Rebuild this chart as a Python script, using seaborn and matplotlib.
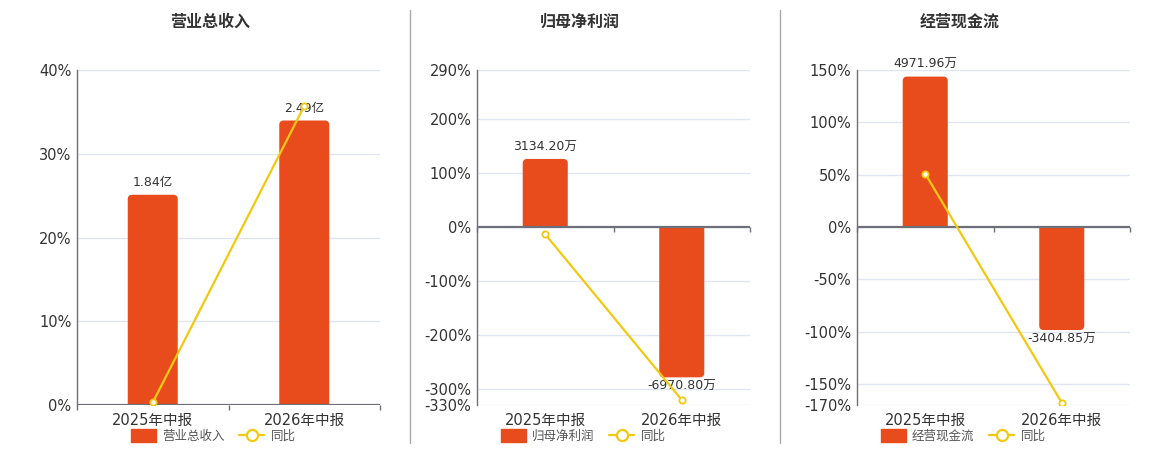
import matplotlib
matplotlib.use("Agg")
import matplotlib.pyplot as plt
import seaborn as sns
import numpy as np
import pandas as pd
from matplotlib.patches import Patch, Polygon
from matplotlib.lines import Line2D

sns.set_style("white")
plt.rcParams["font.family"] = ["DejaVu Sans", "Noto Sans CJK SC"]

# %% data
periods = ["2025年中报", "2026年中报"]

revenue = [1.84, 2.49]            # 亿
revenue_yoy = [0.3, 35.7]         # %
profit = [3134.20, -6970.80]      # 万
profit_yoy = [-14.1, -320.7]
cashflow = [4971.96, -3404.85]    # 万
cashflow_yoy = [50.9, -167.8]

titles = ["营业总收入", "归母净利润", "经营现金流"]
units = ["亿", "万", "万"]
yticks = [
    [0, 10, 20, 30, 40],
    [-330, -300, -200, -100, 0, 100, 200, 290],
    [-170, -150, -100, -50, 0, 50, 100, 150],
]

# %% style
BAR = "#E84C1D"
LINE = "#F2C811"
GRID = "#E0E6F1"
AXIS = "#6E7079"
TEXT = "#333333"
W, H = 1160, 450

# axes boxes in pixels: left, right, top, bottom
boxes = [(77, 380, 70, 405), (477, 750, 70, 405), (857, 1130, 70, 405)]
centers = [210, 580, 960]
# hidden bar axis: money units per percent
scale = [0.0733, 25.0, 34.6]
RADIUS = 4  # px


def round_bars(ax2, px_w, px_h):
    """swap the seaborn bars for ones with rounded outer corners"""
    x0, x1 = ax2.get_xlim()
    y0, y1 = ax2.get_ylim()
    rx = RADIUS * (x1 - x0) / px_w
    for p in list(ax2.patches):
        x, w, v = p.get_x(), p.get_width(), p.get_height()
        ry = RADIUS * (y1 - y0) / px_h * np.sign(v)
        a1 = np.linspace(np.pi, np.pi / 2, 8)
        a2 = np.linspace(np.pi / 2, 0, 8)
        pts = [(x, 0)]
        pts += [(x + rx + rx * np.cos(a), v - ry + ry * np.sin(a)) for a in a1]
        pts += [(x + w - rx + rx * np.cos(a), v - ry + ry * np.sin(a)) for a in a2]
        pts += [(x + w, 0)]
        ax2.add_patch(Polygon(pts, closed=True, facecolor=BAR, edgecolor="none",
                              zorder=2))
        p.set_visible(False)


fig = plt.figure(figsize=(W / 100, H / 100), dpi=100)
fig.patch.set_facecolor("white")

panels = [(revenue, revenue_yoy), (profit, profit_yoy), (cashflow, cashflow_yoy)]
for i, (vals, yoy) in enumerate(panels):
    l, r, t, b = boxes[i]
    ax = fig.add_axes([l / W, 1 - b / H, (r - l) / W, (b - t) / H])
    ax2 = ax.twinx()
    ax2.set_zorder(1)
    ax.set_zorder(2)
    ax.patch.set_visible(False)

    df = pd.DataFrame({"period": periods, "value": vals, "yoy": yoy})
    ymin, ymax = yticks[i][0], yticks[i][-1]

    # bars on hidden axis
    for tk in yticks[i]:
        ax2.axhline(tk * scale[i], color=GRID, lw=1, zorder=0)
    sns.barplot(data=df, x="period", y="value", ax=ax2, color=BAR,
                width=0.33, saturation=1, zorder=2)
    ax2.set_ylim(ymin * scale[i], ymax * scale[i])
    ax2.set_xlim(-0.5, 1.5)
    for p, v in zip(list(ax2.patches), vals):
        txt = f"{v:.2f}{units[i]}"
        cx = p.get_x() + p.get_width() / 2
        if v >= 0:
            ax2.annotate(txt, (cx, v), xytext=(0, 4), textcoords="offset points",
                         ha="center", va="bottom", fontsize=9, color=TEXT)
        else:
            ax2.annotate(txt, (cx, v), xytext=(0, -2), textcoords="offset points",
                         ha="center", va="top", fontsize=9, color=TEXT)
    round_bars(ax2, r - l, b - t)
    ax2.set_axis_off()

    # yoy line
    sns.lineplot(data=df, x="period", y="yoy", ax=ax, color=LINE, lw=1.6,
                 marker="o", markersize=4.5, markerfacecolor="white",
                 markeredgecolor=LINE, markeredgewidth=1.3, zorder=5)
    ax.set_ylim(ymin, ymax)
    ax.set_xlim(-0.5, 1.5)
    ax.set_yticks(yticks[i])
    ax.set_yticklabels([f"{v}%" for v in yticks[i]])
    ax.tick_params(axis="y", length=0, pad=4, labelsize=10.5, labelcolor=TEXT)
    ax.set_xticks([0, 1])
    ax.set_xticklabels(periods)
    ax.tick_params(axis="x", length=0, pad=6, labelsize=10.5, labelcolor=TEXT)
    ax.set_xlabel("")
    ax.set_ylabel("")
    for s in ["top", "right", "bottom"]:
        ax.spines[s].set_visible(False)
    ax.spines["left"].set_color(AXIS)
    ax.spines["left"].set_linewidth(1)

    # zero axis line with ticks between categories
    ax.axhline(0, color=AXIS, lw=1.6, zorder=4)
    tick_len = 5 / (b - t) * (ymax - ymin)
    ax.vlines([-0.5, 0.5, 1.5], -tick_len, 0, color=AXIS, lw=1, zorder=4,
              clip_on=False)

    fig.text(centers[i] / W, 1 - 22 / H, titles[i], ha="center", va="center",
             fontsize=11.5, fontweight="bold", color=TEXT)

    handles = [
        Patch(facecolor=BAR, edgecolor=BAR),
        Line2D([0], [0], color=LINE, lw=1.6, marker="o", markersize=8,
               markerfacecolor="white", markeredgecolor=LINE, markeredgewidth=1.6),
    ]
    fig.legend(handles, [titles[i], "同比"], loc="center",
               bbox_to_anchor=(centers[i] / W + 3 / W, 1 - 436 / H), ncol=2,
               frameon=False, fontsize=9, handlelength=2.0, handleheight=1.2,
               columnspacing=1.2, handletextpad=0.5, labelcolor="#555555")

# separators
for x in [410, 780]:
    fig.add_artist(Line2D([x / W, x / W], [1 - 443 / H, 1 - 10 / H],
                          color="#AAAAAA", lw=1))

fig.savefig("out.png", dpi=100, facecolor="white")
